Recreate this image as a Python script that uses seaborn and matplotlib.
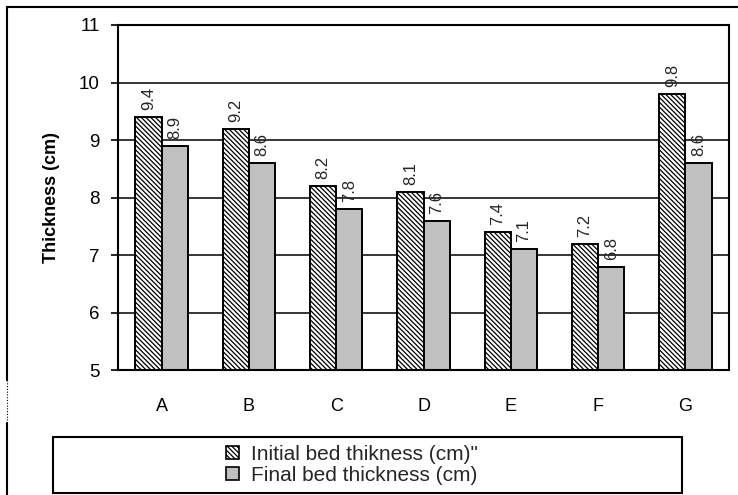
import numpy as np
import pandas as pd
import matplotlib
matplotlib.use("Agg")
import matplotlib.pyplot as plt
from matplotlib.patches import Rectangle
from matplotlib.lines import Line2D
import seaborn as sns

# Bed thickness per sample, before and after
samples = ["A", "B", "C", "D", "E", "F", "G"]
initial_thickness = [9.4, 9.2, 8.2, 8.1, 7.4, 7.2, 9.8]
final_thickness = [8.9, 8.6, 7.8, 7.6, 7.1, 6.8, 8.6]
series_names = ['Initial bed thikness (cm)"', "Final bed thickness (cm)"]
y_ticks = [5, 6, 7, 8, 9, 10, 11]

df = pd.DataFrame({
    "sample": samples * 2,
    "thickness": initial_thickness + final_thickness,
    "series": [series_names[0]] * len(samples) + [series_names[1]] * len(samples),
})

sns.set_theme(style="white")
plt.rcParams["font.family"] = ["Liberation Sans", "DejaVu Sans"]
plt.rcParams["hatch.linewidth"] = 0.9

HATCH = "\\" * 7

fig = plt.figure(figsize=(7.38, 4.95), dpi=100)
ax = fig.add_axes([0.1599, 0.2525, 0.8279, 0.697])

sns.barplot(
    data=df, x="sample", y="thickness", hue="series",
    palette=["white", "#c0c0c0"], width=0.6, saturation=1,
    edgecolor="black", linewidth=1.4, legend=False, ax=ax,
)

# Hatch the "initial" series
for bar in ax.containers[0]:
    bar.set_hatch(HATCH)

for cont in ax.containers:
    ax.bar_label(cont, fmt="%.1f", rotation=90, padding=5, fontsize=12)

ax.set_ylim(5, 11)
ax.set_yticks(y_ticks)
ax.yaxis.grid(True, color="black", linewidth=1.1)
ax.set_axisbelow(True)
ax.tick_params(axis="y", which="both", left=True, length=5, width=1.2,
               color="black", labelsize=13.5, labelcolor="black", pad=8)
ax.tick_params(axis="x", bottom=False, labelsize=13, labelcolor="black", pad=14)
for sp in ax.spines.values():
    sp.set_visible(True)
    sp.set_color("black")
    sp.set_linewidth(1.5)
ax.set_xlabel("")
ax.set_ylabel("Thickness (cm)", fontsize=13, fontweight="bold", color="black", labelpad=14)

# Outer chart frame (left and top edges, with a dotted stretch on the left)
fx = 7 / 738
def fy(py):
    return 1 - py / 495
fig.add_artist(Line2D([fx, fx], [fy(7), fy(380)], color="black", lw=1.5,
                      transform=fig.transFigure))
fig.add_artist(Line2D([fx, fx], [fy(380), fy(423)], color="black", lw=0.8,
                      linestyle=(0, (1, 1.5)), transform=fig.transFigure))
fig.add_artist(Line2D([fx, fx], [fy(423), 0], color="black", lw=1.5,
                      transform=fig.transFigure))
fig.add_artist(Line2D([fx, 1], [fy(7), fy(7)], color="black", lw=1.5,
                      transform=fig.transFigure))

# Legend box spanning below the plot
fig.add_artist(Rectangle((53 / 738, 2 / 495), (682 - 53) / 738, (493 - 437) / 495,
                         transform=fig.transFigure, facecolor="white",
                         edgecolor="black", lw=1.5))
handles = [
    Rectangle((0, 0), 1, 1, facecolor="white", edgecolor="black", hatch=HATCH, lw=1.2),
    Rectangle((0, 0), 1, 1, facecolor="#c0c0c0", edgecolor="black", lw=1.2),
]
fig.legend(handles, series_names, loc="center left",
           bbox_to_anchor=(216 / 738, 1 - 465 / 495), frameon=False,
           fontsize=15, handlelength=0.58, handleheight=0.58, handletextpad=0.6,
           labelspacing=0.12, borderpad=0)

fig.savefig("out.png", dpi=100)
